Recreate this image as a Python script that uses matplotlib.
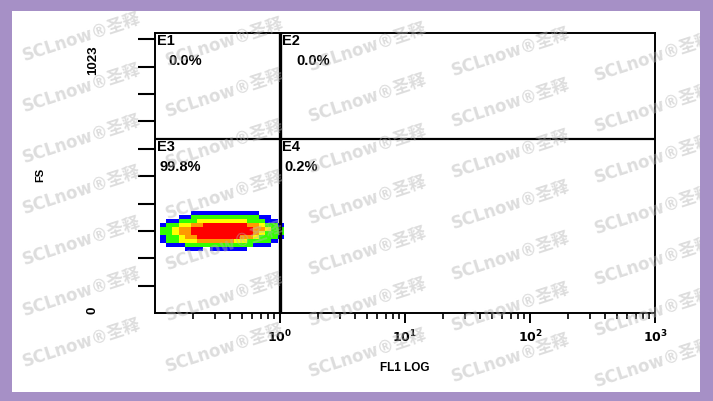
import numpy as np
import matplotlib
matplotlib.use("Agg")
import matplotlib.pyplot as plt
from matplotlib.colors import ListedColormap, BoundaryNorm
from matplotlib.ticker import LogLocator, NullFormatter, FixedLocator

plt.rcParams['font.family'] = ['Liberation Sans', 'DejaVu Sans']

# quadrant stats
quad_names = ["E1", "E2", "E3", "E4"]
quad_pct = ["0.0%", "0.0%", "99.8%", "0.2%"]
gate_x = 1.0      # FL1 LOG split
gate_y = 634      # FS split

# axis ranges
x_range = (0.1, 1000)
y_range = (0, 1023)
y_ticks = [100, 200, 300, 400, 500, 600, 700, 800, 900, 1000]
x_labels = [r"$\mathbf{10^{0}}$", r"$\mathbf{10^{1}}$", r"$\mathbf{10^{2}}$", r"$\mathbf{10^{3}}$"]
x_major = [1, 10, 100, 1000]

# density levels (rows top->bottom, 0 = no events)
density = np.array([
    [0, 0, 0, 0, 0, 1, 1, 1, 1, 1, 1, 1, 1, 1, 1, 1, 0, 0, 0, 0],
    [0, 0, 0, 1, 1, 2, 2, 2, 2, 2, 2, 2, 2, 2, 2, 2, 1, 1, 0, 0],
    [0, 1, 1, 2, 2, 2, 3, 3, 3, 3, 3, 3, 3, 3, 2, 2, 2, 1, 1, 0],
    [1, 2, 2, 3, 3, 4, 4, 5, 5, 5, 5, 5, 5, 5, 4, 4, 3, 2, 2, 1],
    [2, 2, 3, 4, 4, 5, 5, 5, 5, 5, 5, 5, 5, 5, 5, 4, 4, 3, 2, 2],
    [2, 2, 3, 4, 4, 5, 5, 5, 5, 5, 5, 5, 5, 5, 5, 4, 3, 2, 2, 2],
    [1, 2, 2, 3, 4, 4, 5, 5, 5, 5, 5, 5, 5, 4, 4, 3, 2, 2, 2, 1],
    [1, 2, 2, 3, 3, 3, 4, 4, 4, 4, 4, 4, 3, 3, 2, 2, 2, 2, 1, 0],
    [0, 1, 1, 1, 2, 2, 2, 2, 2, 2, 2, 2, 2, 2, 2, 1, 1, 1, 0, 0],
    [0, 0, 0, 0, 1, 1, 1, 0, 1, 1, 1, 1, 1, 1, 0, 0, 0, 0, 0, 0],
])
fl1_edges = np.logspace(-0.96, 0.03, density.shape[1] + 1)
fs_edges = np.linspace(374, 227, density.shape[0] + 1)

W, H = 713, 401
fig = plt.figure(figsize=(W / 100, H / 100), dpi=100)
fig.patch.set_facecolor("#A690C6")
bg = fig.add_axes([12 / W, 1 - 392 / H, 688 / W, 381 / H])
bg.set_facecolor("white")
bg.set_xticks([]); bg.set_yticks([])
for s in bg.spines.values():
    s.set_visible(False)

ax = fig.add_axes([155 / W, 1 - 313 / H, 500 / W, 280 / H])
ax.set_facecolor("none")
ax.set_xscale("log")
ax.set_xlim(*x_range)
ax.set_ylim(*y_range)

cmap = ListedColormap(["#0000ff", "#33ff00", "#ffff00", "#ff9a00", "#ff0000"])
norm = BoundaryNorm([0.5, 1.5, 2.5, 3.5, 4.5, 5.5], cmap.N)
dens = np.ma.masked_equal(density, 0)
ax.pcolormesh(fl1_edges, fs_edges, dens, cmap=cmap, norm=norm)

ax.axvline(gate_x, color="black", lw=2.4)
ax.axhline(gate_y, color="black", lw=1.6)

for s in ax.spines.values():
    s.set_linewidth(1.4)

ax.yaxis.set_major_locator(FixedLocator(y_ticks))
ax.set_yticklabels([])
ax.tick_params(axis="y", direction="out", length=12, width=1.5, pad=2)

ax.xaxis.set_major_locator(FixedLocator(x_major))
ax.set_xticklabels(x_labels, fontsize=9)
ax.xaxis.set_minor_locator(LogLocator(base=10, subs=np.arange(2, 10)))
ax.xaxis.set_minor_formatter(NullFormatter())
ax.tick_params(axis="x", which="major", direction="out", length=7, width=1.4, pad=4)
ax.tick_params(axis="x", which="minor", direction="out", length=4, width=1.2)

ax.set_xlabel("FL1 LOG", fontsize=8.5, fontweight="bold", labelpad=12)

# y axis texts
fig.text(93 / W, 1 - 60 / H, "1023", rotation=90, ha="center", va="center",
         fontsize=9.5, fontweight="bold")
fig.text(40 / W, 1 - 175 / H, "FS", rotation=90, ha="center", va="center",
         fontsize=8, fontweight="bold")
fig.text(92 / W, 1 - 310 / H, "0", rotation=90, ha="center", va="center",
         fontsize=9.5, fontweight="bold")

# quadrant labels (offsets in pixels from each quadrant's top-left corner)
name_pos = [(0.1, 1023), (gate_x, 1023), (0.1, gate_y), (gate_x, gate_y)]
pct_dx = [13, 16, 5, 4]
for (qx, qy), nm, pc, dx in zip(name_pos, quad_names, quad_pct, pct_dx):
    ax.annotate(nm, (qx, qy), xytext=(2, -1), textcoords="offset pixels",
                ha="left", va="top", fontsize=10.5, fontweight="bold")
    ax.annotate(pc, (qx, qy), xytext=(dx, -21), textcoords="offset pixels",
                ha="left", va="top", fontsize=10.5, fontweight="bold")

# watermark lattice, clipped to the white panel
for j in range(5):
    for k in range(-1, 8):
        cx = 82 + 143 * j
        cy = 37 + 5 * j + 51 * k
        if cy < 15 or cy > 385:
            continue
        t = fig.text(cx / W, 1 - cy / H, "SCLnow®圣释", rotation=18, ha="center", va="center",
                     fontsize=12, fontweight="bold", color="#b4b4b4", alpha=0.45,
                     family=["DejaVu Sans", "Noto Sans CJK SC"], zorder=10)
        t.set_clip_box(bg.bbox)
        t.set_clip_on(True)

fig.savefig("out.png", dpi=100, facecolor=fig.get_facecolor())
